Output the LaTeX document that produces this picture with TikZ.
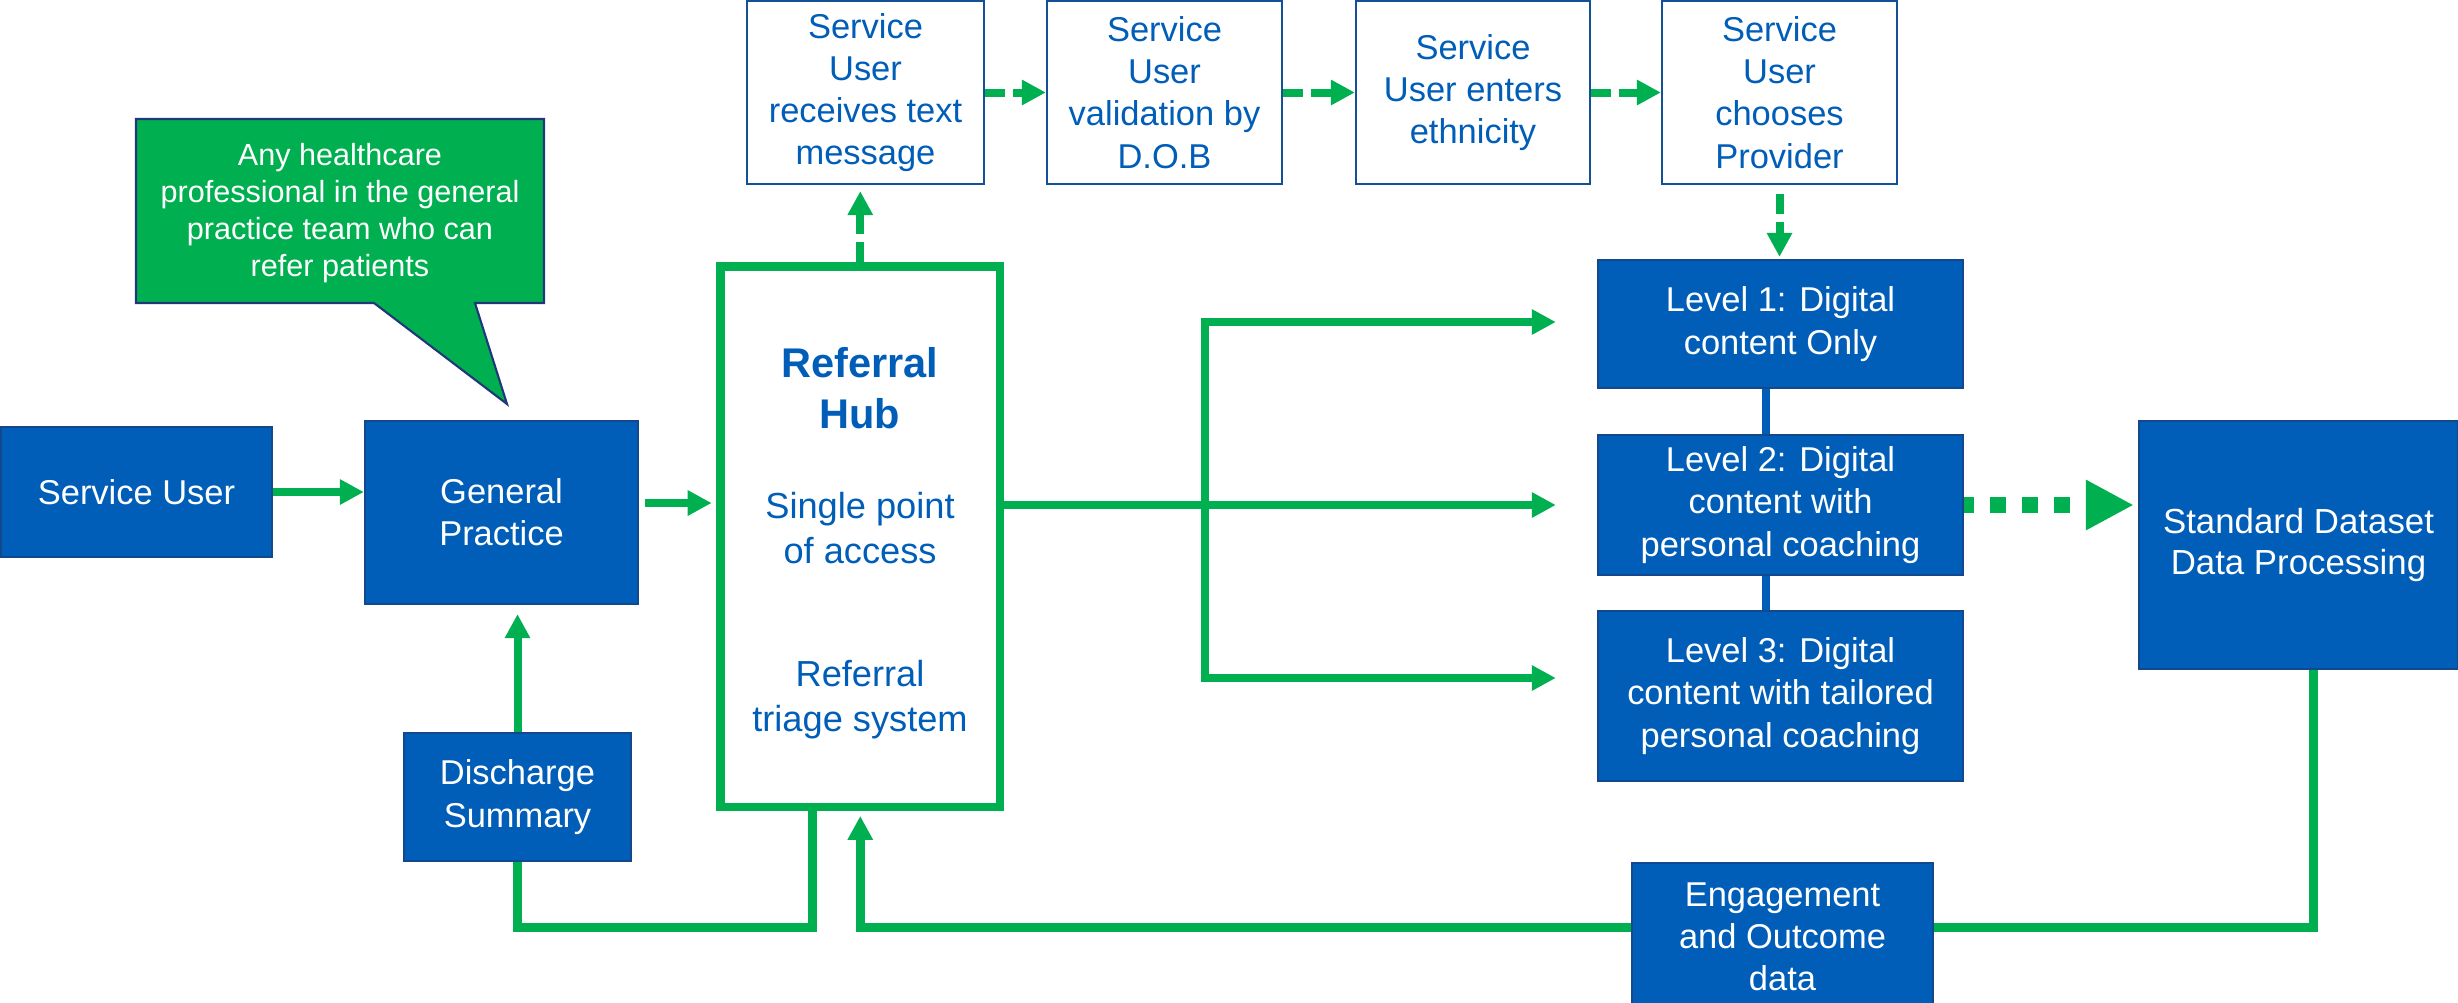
\documentclass[tikz,border=0pt]{standalone}
\usepackage{fontspec}
\setmainfont{Liberation Sans}
\usetikzlibrary{arrows.meta}
\definecolor{nhsblue}{RGB}{0,94,184}
\definecolor{bborder}{RGB}{20,72,140}
\definecolor{wborder}{RGB}{20,80,150}
\definecolor{tblue}{RGB}{0,94,184}
\definecolor{ggreen}{RGB}{0,176,80}
\definecolor{cborder}{RGB}{32,56,120}
\newcommand{\fmain}{\fontsize{9.8pt}{12pt}\selectfont}
\newcommand{\fcall}{\fontsize{8.7pt}{10.5pt}\selectfont}
\newcommand{\fhubb}{\fontsize{11.8pt}{14.5pt}\selectfont\bfseries}
\newcommand{\fhub}{\fontsize{10.3pt}{12.8pt}\selectfont}
\newcommand{\fstd}{\fontsize{9.9pt}{11.4pt}\selectfont}
\begin{document}
\begin{tikzpicture}[x=0.01cm,y=-0.01cm,
  bluebox/.style={draw=bborder,line width=0.6pt,fill=nhsblue,text=white,align=center,inner sep=0pt,font=\fmain},
  whitebox/.style={draw=wborder,line width=0.6pt,fill=white,text=tblue,align=center,inner sep=0pt,font=\fmain},
  gline/.style={draw=ggreen,line width=0.08cm},
  fbline/.style={draw=ggreen,line width=0.09cm},
  gtip/.style={-{Triangle[length=0.24cm,width=0.24cm]}},
  gdash/.style={dash pattern=on 0.2cm off 0.08cm},
  bconn/.style={draw=nhsblue,line width=0.08cm}]
\useasboundingbox (0,0) rectangle (2458,1002);

% left boxes
\node[bluebox,minimum width=2.71cm,minimum height=1.30cm] (su) at (136.5,492) {Service User};
\node[bluebox,minimum width=2.73cm,minimum height=1.83cm] (gp) at (501.5,512.5) {General\\Practice};
\node[bluebox,minimum width=2.27cm,minimum height=1.28cm] (dis) at (517.5,797) {Discharge\\Summary};

% callout
\filldraw[fill=ggreen,draw=cborder,line width=0.6pt] (136,119) -- (544,119) -- (544,303) -- (475,303) -- (507,404) -- (374,303) -- (136,303) -- cycle;
\node[text=white,align=center,font=\fcall] (callout) at (340,213) {Any healthcare\\professional in the general\\practice team who can\\refer patients};

% hub
\node[draw=ggreen,line width=0.085cm,minimum width=2.795cm,minimum height=5.405cm,inner sep=0pt] (hub) at (860.25,536.75) {};
\node[text=tblue,font=\fhubb,align=center] (hubtitle) at (860,388.5) {Referral\\Hub};
\node[text=tblue,font=\fhub,align=center] (hubspa) at (860,528) {Single point\\of access};
\node[text=tblue,font=\fhub,align=center] (hubtri) at (860,699.5) {Referral\\triage system};

% top boxes
\node[whitebox,minimum width=2.37cm,minimum height=1.83cm] (box1) at (865.5,92.5) {Service\\User\\receives text\\message};
\node[whitebox,minimum width=2.35cm,minimum height=1.83cm] (box2) at (1164.5,92.5) {Service\\User\\validation by\\D.O.B};
\node[whitebox,minimum width=2.34cm,minimum height=1.83cm] (box3) at (1473,92.5) {Service\\User enters\\ethnicity};
\node[whitebox,minimum width=2.35cm,minimum height=1.83cm] (box4) at (1779.5,92.5) {Service\\User\\chooses\\Provider};

% levels
\node[bluebox,minimum width=3.65cm,minimum height=1.28cm] (lev1) at (1780.5,324) {Level 1: Digital\\content Only};
\node[bluebox,minimum width=3.65cm,minimum height=1.40cm] (lev2) at (1780.5,505) {Level 2: Digital\\content with\\personal coaching};
\node[bluebox,minimum width=3.65cm,minimum height=1.70cm] (lev3) at (1780.5,696) {Level 3: Digital\\content with tailored\\personal coaching};

% right / bottom boxes
\node[bluebox,minimum width=3.19cm,minimum height=2.48cm,font=\fstd] (std) at (2298.5,545) {Standard Dataset\\Data Processing};
\node[bluebox,minimum width=3.01cm,minimum height=1.47cm] (eng) at (1782.5,936.5) {Engagement\\and Outcome\\data};

% connectors
\draw[gline,gtip] (su.east) -- (su.east -| gp.west);
\draw[gline,gtip,shorten <=0.06cm,shorten >=0.045cm] ([yshift=0.095cm]gp.east) -- ([yshift=0.095cm]gp.east -| hub.west);
\draw[gline,gdash,gtip,shorten >=0.06cm] (hub.north) -- (hub.north |- box1.south);
\draw[gline,gdash,gtip] (box1.east) -- (box2.west);
\draw[gline,gdash,gtip] (box2.east) -- (box3.west);
\draw[gline,gdash,gtip] (box3.east) -- (box4.west);
\draw[gline,gdash,gtip,shorten <=0.09cm,shorten >=0.02cm] (box4.south) -- (box4.south |- lev1.north);

\coordinate (bra) at (1205,322);
\coordinate (brb) at (1205,678);
\draw[gline,gtip,shorten >=0.41cm] (hub.east |- lev2.west) -- (lev2.west);
\draw[gline,line cap=rect] (bra) -- (brb);
\draw[gline,gtip,shorten >=0.41cm] (bra) -- (bra -| lev1.west);
\draw[gline,gtip,shorten >=0.41cm] (brb) -- (brb -| lev3.west);

\draw[bconn] ([xshift=-0.15cm]lev1.south) -- ([xshift=-0.15cm]lev2.north);
\draw[bconn] ([xshift=-0.15cm]lev2.south) -- ([xshift=-0.15cm]lev3.north);

\draw[ggreen,line width=0.16cm,dash pattern=on 0.16cm off 0.16cm,dash phase=0.06cm,-{Triangle[length=0.48cm,width=0.47cm]},shorten >=0.04cm] (lev2.east) -- (lev2.east -| std.west);

\coordinate (fb) at (2313,927);
\draw[fbline] ([xshift=0.145cm]std.south) |- (eng.east |- fb);
\draw[fbline,gtip,shorten >=0.045cm] (eng.west |- fb) -| (hub.south);
\draw[fbline] ([xshift=-0.48cm]hub.south) |- (dis.south |- fb) -- (dis.south);
\draw[gline,gtip,shorten >=0.09cm] (dis.north) -- (dis.north |- gp.south);
\end{tikzpicture}
\end{document}
